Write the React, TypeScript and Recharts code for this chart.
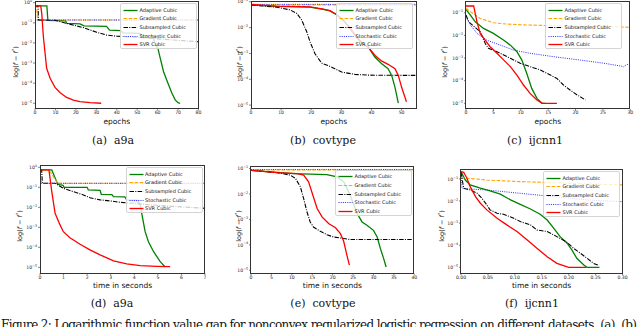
import React from 'react';
import { LineChart, Line, XAxis, YAxis } from 'recharts';

type Pt = [number, number];

// y values are log10(f - f*)

// (a) a9a, epochs
const aAdaptive: Pt[] = [[0, -0.16], [5.8, -0.16], [6.3, -0.88], [15, -0.9], [15.6, -1.03], [22, -1.05], [24, -1.15], [35, -1.18], [36.5, -1.36], [42, -1.39], [43, -1.5], [51, -1.52], [52.5, -1.63], [57.5, -1.66], [59, -2.1], [60.2, -2.3], [61.3, -2.77], [62.9, -3.43], [65.4, -4.09], [67, -4.5], [68.6, -4.83], [70, -4.97], [71, -5.0]];
const aGradient: Pt[] = [[0, -0.16], [0.8, -0.16], [1.2, -0.86], [80, -0.86]];
const aSubsampled: Pt[] = [[0, -0.16], [1.5, -0.16], [1.7, -0.86], [10.3, -0.88], [15.5, -1.03], [23.7, -1.24], [30.2, -1.47], [35, -1.61], [40, -1.66], [50, -1.72], [60, -1.8], [70, -1.87], [80, -1.94]];
const aStochastic: Pt[] = [[0, -0.16], [0.2, -0.86], [80, -0.86]];
const aSvr: Pt[] = [[0, -0.16], [2.8, -0.16], [3.3, -0.53], [4.1, -1.69], [5.7, -3.26], [7.4, -3.76], [9.8, -4.21], [12.3, -4.48], [15.5, -4.71], [18.8, -4.84], [22, -4.92], [27, -4.97], [32.4, -5.0]];

// (b) covtype, epochs
const bAdaptive: Pt[] = [[0, -1.12], [8.5, -1.18], [19.6, -1.21], [24, -1.29], [26.2, -1.35], [28.4, -1.5], [30.6, -1.72], [32.8, -2.02], [35, -2.38], [37, -2.62], [38.9, -2.75], [41.1, -3.14], [43.3, -3.39], [45.5, -3.59], [46.7, -3.85], [47.8, -4.31], [48.9, -4.92]];
const bGradient: Pt[] = [[0, -1.12], [55, -1.12]];
const bSubsampled: Pt[] = [[0, -1.12], [8.5, -1.21], [12.9, -1.31], [15.1, -1.44], [16.8, -1.7], [18.5, -2.16], [19.6, -2.55], [21.2, -3.0], [23.4, -3.37], [26.8, -3.53], [30.1, -3.72], [34.5, -3.81], [39, -3.84], [55, -3.85]];
const bStochastic: Pt[] = [[0, -1.1], [55, -1.1]];
const bSvr: Pt[] = [[0, -1.1], [8.5, -1.17], [19.6, -1.2], [24, -1.28], [26.2, -1.34], [28.4, -1.49], [30.6, -1.7], [32.8, -2.0], [35, -2.35], [37, -2.6], [38.9, -2.75], [41.1, -3.07], [43.3, -3.29], [45.5, -3.42], [47.8, -3.59], [48.9, -3.85], [50, -4.31], [51.6, -4.87]];

// (c) ijcnn1, epochs
const cAdaptive: Pt[] = [[0, -0.85], [0.8, -1.1], [1.7, -1.4], [3.2, -1.69], [5, -1.91], [6.9, -2.21], [8.1, -2.43], [9.3, -2.72], [10.2, -3.09], [11.1, -3.68], [12, -4.34], [12.96, -4.78], [13.9, -5.0], [14.5, -5.0]];
const cGradient: Pt[] = [[0, -0.81], [1.4, -1.05], [2.6, -1.25], [5, -1.44], [7.5, -1.5], [11.1, -1.54], [16, -1.57], [22.1, -1.59], [30, -1.64]];
const cSubsampled: Pt[] = [[0, -1.1], [0.5, -1.4], [1.4, -1.59], [2.6, -1.84], [3.5, -2.35], [4.1, -2.57], [5.65, -2.72], [6.9, -2.87], [8.1, -3.01], [9.9, -3.23], [11.7, -3.38], [13.6, -3.53], [15.4, -3.75], [16.6, -3.9], [17.8, -4.19], [19, -4.41], [20.3, -4.63], [21.8, -4.85]];
const cStochastic: Pt[] = [[0, -1.18], [0.8, -1.54], [2, -1.91], [3.8, -2.21], [6.3, -2.43], [8.7, -2.65], [11.7, -2.79], [16, -2.94], [20.9, -3.09], [25.2, -3.23], [28.2, -3.35], [28.8, -3.38], [29.4, -3.27], [30, -3.35]];
const cSvr: Pt[] = [[0, -0.7], [1.4, -0.7], [2, -1.4], [2.6, -1.91], [3.5, -2.21], [4.4, -2.5], [5.65, -2.79], [6.9, -3.09], [8.1, -3.38], [9.3, -3.75], [10.5, -4.19], [11.7, -4.56], [12.96, -4.85], [13.9, -5.0], [16.6, -5.0]];

// (d) a9a, seconds
const dAdaptive: Pt[] = [[0, -0.13], [0.5, -0.13], [0.75, -0.85], [0.98, -0.9], [1.02, -1.0], [2.0, -1.0], [2.05, -1.13], [2.55, -1.15], [2.6, -1.35], [3.05, -1.37], [3.12, -1.47], [3.6, -1.48], [3.68, -1.63], [4.15, -1.66], [4.25, -1.88], [4.3, -2.2], [4.46, -3.22], [4.6, -3.72], [4.82, -4.22], [5.1, -4.72], [5.3, -4.97]];
const dGradient: Pt[] = [[0, -0.13], [0.38, -0.13], [0.75, -0.8], [7, -0.8]];
const dSubsampled: Pt[] = [[0, -0.13], [0.07, -0.13], [0.1, -0.8], [0.64, -0.8], [0.99, -1.05], [1.42, -1.22], [1.84, -1.38], [2.12, -1.52], [2.55, -1.63], [2.97, -1.68], [3.4, -1.75], [3.97, -1.8], [4.39, -1.85], [4.96, -1.9], [6, -1.98], [7, -2.05]];
const dStochastic: Pt[] = [[0, -0.13], [0.05, -0.8], [7, -0.8]];
const dSvr: Pt[] = [[0, -0.13], [0.38, -0.13], [0.5, -1.22], [0.64, -2.3], [0.85, -2.88], [0.99, -3.22], [1.27, -3.52], [1.7, -3.85], [2.12, -4.13], [2.55, -4.38], [3.12, -4.68], [3.68, -4.83], [4.25, -4.92], [4.96, -4.95], [5.52, -4.97]];

// (e) covtype, seconds
const eAdaptive: Pt[] = [[0, -1.07], [10.4, -1.2], [18.6, -1.24], [21.1, -1.33], [22.7, -1.52], [24.3, -2.05], [26, -2.77], [27.2, -3.1], [28.4, -3.23], [30, -3.43], [30.9, -3.69], [31.7, -4.15], [32.5, -4.54], [33.1, -4.87]];
const eGradient: Pt[] = [[0, -1.06], [40, -1.06]];
const eSubsampled: Pt[] = [[0, -1.07], [6.4, -1.16], [9.6, -1.26], [10.9, -1.39], [12.1, -1.72], [12.9, -2.18], [13.7, -2.7], [14.5, -3.1], [15.3, -3.3], [17, -3.47], [18.6, -3.6], [20.2, -3.69], [22.7, -3.75], [24.3, -3.79], [40, -3.79]];
const eStochastic: Pt[] = [[0, -1.04], [40, -1.04]];
const eSvr: Pt[] = [[0, -1.07], [6.4, -1.16], [11.3, -1.2], [12.9, -1.26], [14.1, -1.52], [14.9, -1.92], [16.2, -2.57], [17.4, -2.9], [19, -3.16], [20.7, -3.33], [21.9, -3.56], [22.7, -3.86], [23.5, -4.41], [24.1, -4.8]];

// (f) ijcnn1, seconds
const fAdaptive: Pt[] = [[0, -0.67], [0.008, -1.05], [0.017, -1.27], [0.036, -1.42], [0.054, -1.54], [0.073, -1.69], [0.092, -1.95], [0.11, -2.15], [0.129, -2.36], [0.147, -2.6], [0.16, -2.86], [0.172, -3.23], [0.184, -3.61], [0.197, -3.91], [0.206, -4.22], [0.215, -4.59], [0.228, -4.89], [0.234, -5.0], [0.257, -5.0]];
const fGradient: Pt[] = [[0, -0.94], [0.048, -1.05], [0.11, -1.12], [0.172, -1.17], [0.234, -1.23], [0.3, -1.27]];
const fSubsampled: Pt[] = [[0, -0.7], [0.005, -1.42], [0.017, -1.5], [0.03, -1.65], [0.039, -1.88], [0.048, -2.18], [0.054, -2.4], [0.067, -2.55], [0.079, -2.6], [0.098, -2.78], [0.11, -2.93], [0.129, -3.08], [0.141, -3.31], [0.16, -3.38], [0.178, -3.61], [0.197, -3.87], [0.209, -4.14], [0.222, -4.37], [0.234, -4.59], [0.246, -4.82], [0.256, -4.92]];
const fStochastic: Pt[] = [[0, -0.75], [0.002, -1.42], [0.011, -1.45], [0.048, -1.5], [0.11, -1.65], [0.172, -1.8], [0.234, -1.95], [0.3, -2.03]];
const fSvr: Pt[] = [[0, -0.67], [0.005, -0.7], [0.011, -0.97], [0.017, -1.35], [0.027, -1.8], [0.036, -2.1], [0.048, -2.4], [0.067, -2.78], [0.085, -3.08], [0.104, -3.38], [0.123, -3.76], [0.141, -4.14], [0.16, -4.52], [0.178, -4.82], [0.2, -5.0], [0.232, -5.0]];

const seriesNames = ['Adaptive Cubic', 'Gradient Cubic', 'Subsampled Cubic', 'Stochastic Cubic', 'SVR Cubic'];

const xTicksA = [0, 10, 20, 30, 40, 50, 60, 70, 80];
const xTicksB = [0, 10, 20, 30, 40, 50];
const xTicksC = [0, 5, 10, 15, 20, 25, 30];
const xTicksD = [0, 1, 2, 3, 4, 5, 6, 7];
const xTicksE = [0, 5, 10, 15, 20, 25, 30, 35, 40];
const xTicksF = [0, 0.05, 0.1, 0.15, 0.2, 0.25, 0.3];
const yTicks0 = [-5, -4, -3, -2, -1, 0];
const yTicks1 = [-5, -4, -3, -2, -1];

const STYLE = [
  { color: '#008000', dash: undefined as string | undefined, width: 1.3 },
  { color: '#ffa500', dash: '3.5 1.6', width: 1.1 },
  { color: '#000000', dash: '4.5 1.3 1 1.3', width: 1.1 },
  { color: '#2b2bff', dash: '1 1.2', width: 1 },
  { color: '#ff0000', dash: undefined as string | undefined, width: 1.3 },
];

const SANS = 'DejaVu Sans';
const SERIF = 'DejaVu Serif';

const toRows = (pts: Pt[]) => pts.map(([x, y]) => ({ x, y }));

const XTick = (props: any) => {
  const { x, y, payload, fmt } = props;
  return (
    <text x={x} y={y + 2.3} textAnchor="middle" fontSize={4.6} fontFamily={SANS} fill="#222">
      {fmt ? fmt(payload.value) : payload.value}
    </text>
  );
};

const YTick = (props: any) => {
  const { x, y, payload } = props;
  const e = payload.value as number;
  return (
    <text x={x} y={y + 1.7} textAnchor="end" fontSize={4.6} fontFamily={SANS} fill="#222">
      10<tspan dy={-2.1} fontSize={3.3}>{e === 0 ? '0' : '\u2212' + Math.abs(e)}</tspan>
    </text>
  );
};

type Box = { x0: number; x1: number; y0: number; y1: number };

type PanelProps = {
  box: Box;
  xDomain: [number, number];
  xTicks: number[];
  xFmt?: (v: number) => string;
  yDomain: [number, number];
  yTicks: number[];
  series: Pt[][];
  xLabel: string;
  caption: [string, string];
  captionX: number;
  captionY: number;
  yLabelX: number;
  yLabelY: number;
  legendX: number;
  legendY: number;
};

function Legend({ left, top }: { left: number; top: number }) {
  return (
    <div
      style={{
        position: 'absolute',
        left,
        top,
        width: 77,
        height: 46,
        boxSizing: 'border-box',
        background: 'rgba(255,255,255,0.8)',
        border: '1px solid #d4d4d4',
        borderRadius: 2,
      }}
    >
      {seriesNames.map((name, i) => (
        <div key={name} style={{ position: 'absolute', left: 0, top: 2.6 + i * 8.7, height: 7, width: 76 }}>
          <svg width={16} height={7} style={{ position: 'absolute', left: 2, top: 0 }}>
            <line
              x1={0.5}
              x2={14.5}
              y1={3.5}
              y2={3.5}
              stroke={STYLE[i].color}
              strokeWidth={STYLE[i].width}
              strokeDasharray={STYLE[i].dash}
            />
          </svg>
          <div
            style={{
              position: 'absolute',
              left: 18.5,
              top: 0,
              fontFamily: SANS,
              fontSize: 5,
              lineHeight: '7px',
              color: '#111',
              whiteSpace: 'nowrap',
            }}
          >
            {name}
          </div>
        </div>
      ))}
    </div>
  );
}

function Panel(p: PanelProps) {
  const { x0, x1, y0, y1 } = p.box;
  const yAxisW = 30;
  const top = 2;
  const right = 10;
  const xAxisH = 14;
  const w = x1 - x0 + yAxisW + right;
  const h = y1 - y0 + top + xAxisH;
  return (
    <>
      <div style={{ position: 'absolute', left: x0 - yAxisW, top: y0 - top }}>
        <LineChart width={w} height={h} margin={{ top, right, left: 0, bottom: 0 }}>
          <XAxis
            type="number"
            dataKey="x"
            domain={p.xDomain}
            ticks={p.xTicks}
            interval={0}
            allowDataOverflow
            height={xAxisH}
            tickSize={2}
            tickMargin={1}
            axisLine={false}
            tickLine={{ stroke: '#333', strokeWidth: 0.6 }}
            tick={<XTick fmt={p.xFmt} />}
          />
          <YAxis
            type="number"
            domain={p.yDomain}
            ticks={p.yTicks}
            interval={0}
            allowDataOverflow
            width={yAxisW}
            tickSize={2}
            tickMargin={1}
            axisLine={false}
            tickLine={{ stroke: '#333', strokeWidth: 0.6 }}
            tick={<YTick />}
          />
          {p.series.map((s, i) => (
            <Line
              key={seriesNames[i]}
              data={toRows(s)}
              dataKey="y"
              type="linear"
              stroke={STYLE[i].color}
              strokeWidth={STYLE[i].width}
              strokeDasharray={STYLE[i].dash}
              dot={false}
              activeDot={false}
              isAnimationActive={false}
            />
          ))}
        </LineChart>
      </div>
      <div
        style={{
          position: 'absolute',
          left: x0 - 0.4,
          top: y0 - 0.4,
          width: x1 - x0 + 0.8,
          height: y1 - y0 + 0.8,
          boxSizing: 'border-box',
          border: '0.8px solid #333',
          pointerEvents: 'none',
        }}
      />
      <Legend left={p.legendX} top={p.legendY} />
      <div
        style={{
          position: 'absolute',
          left: (x0 + x1) / 2 - 50,
          top: y1 + 8,
          width: 100,
          textAlign: 'center',
          fontFamily: SANS,
          fontSize: 7.5,
          lineHeight: '10px',
          color: '#111',
        }}
      >
        {p.xLabel}
      </div>
      <div
        style={{
          position: 'absolute',
          left: p.yLabelX - 30,
          top: p.yLabelY - 5,
          width: 60,
          height: 10,
          textAlign: 'center',
          fontFamily: SANS,
          fontSize: 6.5,
          lineHeight: '10px',
          color: '#111',
          whiteSpace: 'nowrap',
          transform: 'rotate(-90deg)',
        }}
      >
        log(<i>f</i> − <i>f</i>
        <sup style={{ fontSize: 4.5 }}>*</sup>)
      </div>
      <div
        style={{
          position: 'absolute',
          left: p.captionX - 60,
          top: p.captionY - 7,
          width: 120,
          textAlign: 'center',
          fontFamily: SERIF,
          fontSize: 11,
          lineHeight: '14px',
          color: '#111',
          whiteSpace: 'pre',
        }}
      >
        {p.caption[0] + '  ' + p.caption[1]}
      </div>
    </>
  );
}

export default function App() {
  return (
    <div
      style={{
        position: 'absolute',
        left: 0,
        top: 0,
        width: 640,
        height: 327,
        overflow: 'hidden',
        background: '#fff',
      }}
    >
      <Panel
        box={{ x0: 35, x1: 198.5, y0: 1, y1: 108.5 }}
        xDomain={[0, 80]}
        xTicks={xTicksA}
        yDomain={[-5.26, 0.085]}
        yTicks={yTicks0}
        series={[aAdaptive, aGradient, aSubsampled, aStochastic, aSvr]}
        xLabel="epochs"
        caption={['(a)', 'a9a']}
        captionX={113}
        captionY={141}
        yLabelX={14}
        yLabelY={62}
        legendX={120}
        legendY={3}
      />
      <Panel
        box={{ x0: 251, x1: 416.7, y0: 1, y1: 108.5 }}
        xDomain={[0, 55]}
        xTicks={xTicksB}
        yDomain={[-5.13, -0.97]}
        yTicks={yTicks1}
        series={[bAdaptive, bGradient, bSubsampled, bStochastic, bSvr]}
        xLabel="epochs"
        caption={['(b)', 'covtype']}
        captionX={323}
        captionY={141}
        yLabelX={238}
        yLabelY={62}
        legendX={336}
        legendY={3}
      />
      <Panel
        box={{ x0: 465.7, x1: 630, y0: 1, y1: 109 }}
        xDomain={[0, 30]}
        xTicks={xTicksC}
        yDomain={[-5.25, -0.48]}
        yTicks={yTicks1}
        series={[cAdaptive, cGradient, cSubsampled, cStochastic, cSvr]}
        xLabel="epochs"
        caption={['(c)', 'ijcnn1']}
        captionX={535}
        captionY={141}
        yLabelX={443}
        yLabelY={62}
        legendX={545}
        legendY={3}
      />
      <Panel
        box={{ x0: 40, x1: 205, y0: 165, y1: 273.3 }}
        xDomain={[0, 7]}
        xTicks={xTicksD}
        yDomain={[-5.3, 0.115]}
        yTicks={yTicks0}
        series={[dAdaptive, dGradient, dSubsampled, dStochastic, dSvr]}
        xLabel="time in seconds"
        caption={['(d)', 'a9a']}
        captionX={112}
        captionY={304}
        yLabelX={18}
        yLabelY={226}
        legendX={125.5}
        legendY={167}
      />
      <Panel
        box={{ x0: 250.7, x1: 414, y0: 166.7, y1: 273.3 }}
        xDomain={[0, 40]}
        xTicks={xTicksE}
        yDomain={[-5.13, -0.94]}
        yTicks={yTicks1}
        series={[eAdaptive, eGradient, eSubsampled, eStochastic, eSvr]}
        xLabel="time in seconds"
        caption={['(e)', 'covtype']}
        captionX={323}
        captionY={304}
        yLabelX={237}
        yLabelY={226}
        legendX={335}
        legendY={169.5}
      />
      <Panel
        box={{ x0: 460.7, x1: 622.3, y0: 169, y1: 273.3 }}
        xDomain={[0, 0.3]}
        xTicks={xTicksF}
        xFmt={(v: number) => v.toFixed(2)}
        yDomain={[-5.27, -0.55]}
        yTicks={yTicks1}
        series={[fAdaptive, fGradient, fSubsampled, fStochastic, fSvr]}
        xLabel="time in seconds"
        caption={['(f)', 'ijcnn1']}
        captionX={532}
        captionY={304}
        yLabelX={440}
        yLabelY={226}
        legendX={543}
        legendY={171}
      />
      <svg width={640} height={14} style={{ position: 'absolute', left: 0, top: 317 }}>
        <text x={1} y={12} fontFamily={SERIF} fontSize={12} fill="#111" textLength={636} lengthAdjust="spacing">
          Figure 2: Logarithmic function value gap for nonconvex regularized logistic regression on different datasets. (a), (b)
        </text>
      </svg>
    </div>
  );
}
